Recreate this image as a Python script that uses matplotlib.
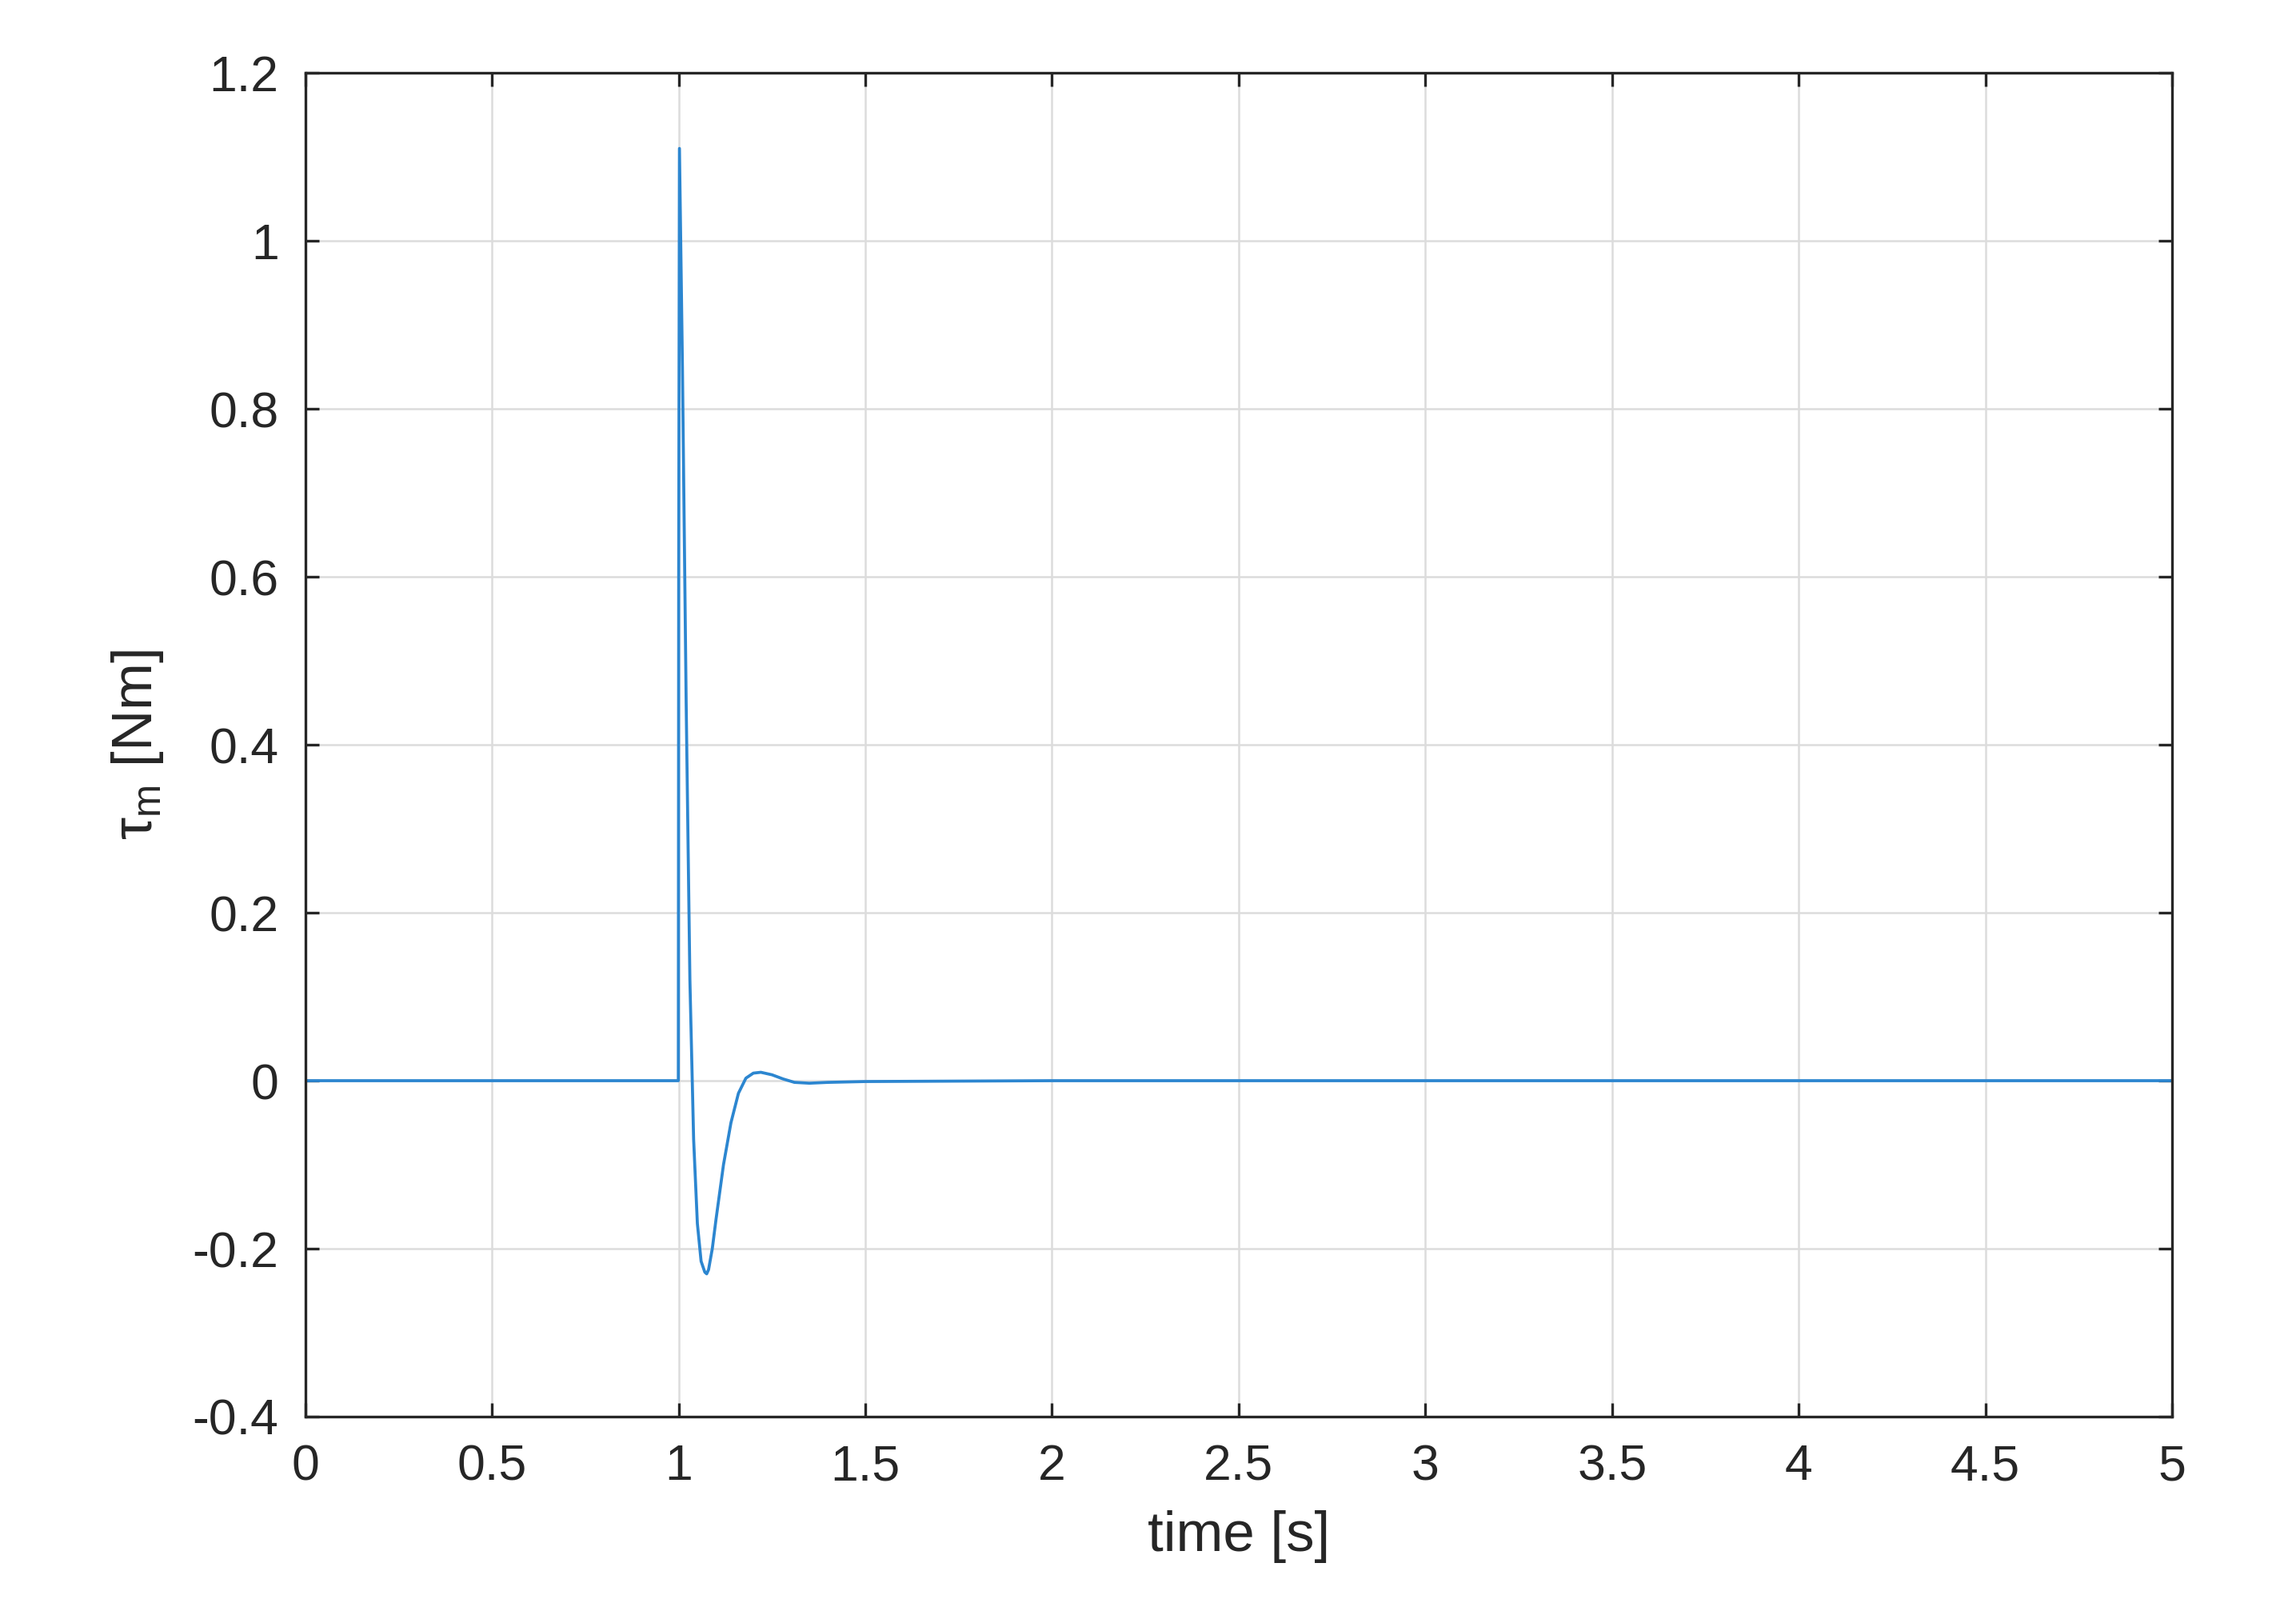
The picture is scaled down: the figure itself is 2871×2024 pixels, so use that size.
import numpy as np
import matplotlib.pyplot as plt

plt.rcParams['font.family'] = ['Liberation Sans', 'DejaVu Sans']
plt.rcParams['mathtext.fontset'] = 'custom'
plt.rcParams['mathtext.rm'] = 'Liberation Sans'

# torque trace
time_s = [0.0, 0.5, 0.999, 1.0, 1.002, 1.01, 1.02, 1.03, 1.04, 1.05, 1.06, 1.07,
          1.075, 1.08, 1.09, 1.10, 1.12, 1.14, 1.16, 1.18, 1.20, 1.22, 1.25,
          1.28, 1.31, 1.35, 1.40, 1.5, 2.0, 3.0, 4.0, 5.0]
tau_m = [0.0, 0.0, 0.0, 0.6, 1.11, 0.85, 0.45, 0.12, -0.07, -0.17, -0.215, -0.228,
         -0.23, -0.225, -0.2, -0.165, -0.1, -0.05, -0.015, 0.003, 0.009, 0.01, 0.007,
         0.002, -0.002, -0.003, -0.002, -0.001, 0.0, 0.0, 0.0, 0.0]

x_ticks = [0, 0.5, 1, 1.5, 2, 2.5, 3, 3.5, 4, 4.5, 5]
x_labels = ['0', '0.5', '1', '1.5', '2', '2.5', '3', '3.5', '4', '4.5', '5']
y_ticks = [-0.4, -0.2, 0, 0.2, 0.4, 0.6, 0.8, 1.0, 1.2]
y_labels = ['-0.4', '-0.2', '0', '0.2', '0.4', '0.6', '0.8', '1', '1.2']

fig = plt.figure(figsize=(2871 / 300, 2024 / 300), dpi=300)
ax = fig.add_axes([0.133, 0.125, 0.813, 0.83])
ax.plot(time_s, tau_m, color='#2c86d0', lw=0.9)

ax.set_xlim(0, 5)
ax.set_ylim(-0.4, 1.2)
ax.set_xticks(x_ticks)
ax.set_xticklabels(x_labels)
ax.set_yticks(y_ticks)
ax.set_yticklabels(y_labels)
ax.grid(True, color='#dcdcdc', lw=0.6)
ax.tick_params(direction='in', top=True, right=True, labelsize=15, length=4,
               colors='#262626', pad=8)
for s in ax.spines.values():
    s.set_color('#262626')
    s.set_linewidth(0.8)
ax.set_xlabel('time [s]', fontsize=17, color='#262626', labelpad=6)
ax.set_ylabel(r'τ$_\mathrm{m}$ [Nm]', fontsize=17, color='#262626', labelpad=8)

fig.savefig('out.png', dpi=300)
